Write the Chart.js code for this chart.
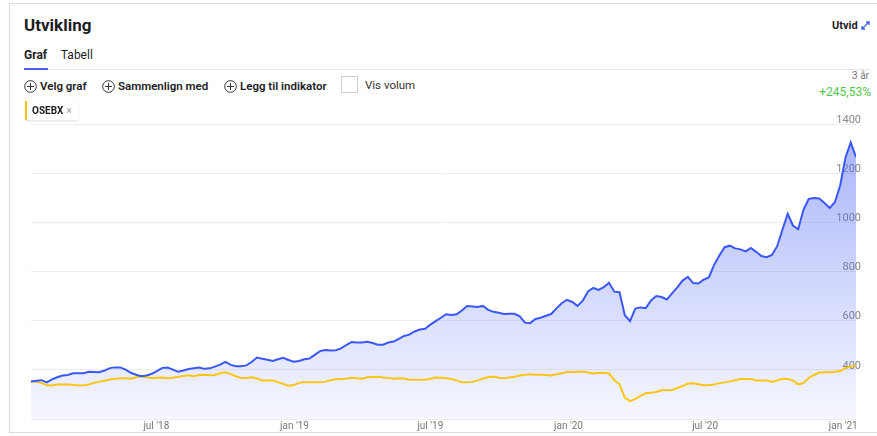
<!DOCTYPE html>
<html>
<head>
<meta charset="utf-8">
<script src="https://cdn.jsdelivr.net/npm/chart.js@4"></script>
<style>
  html, body { margin: 0; padding: 0; background: #fff; }
  body { width: 877px; height: 436px; position: relative; overflow: hidden; font-family: Roboto, "Open Sans", sans-serif; color: #1d1d1f; }
  .card { position: absolute; left: 9px; top: 3px; width: 880px; height: 430px; border: 1px solid #dcdcdc; box-sizing: border-box; }
  .title { position: absolute; left: 24px; top: 15px; font-size: 17px; font-weight: 700; }
  .utvid { position: absolute; left: 832px; top: 19px; font-size: 11px; font-weight: 700; }
  .utvid svg { position: absolute; left: 28px; top: 1px; }
  .tabs { position: absolute; left: 24px; top: 48px; font-size: 12px; }
  .tabs span { margin-right: 11px; }
  .tabs .on { font-weight: 700; }
  .tabline { position: absolute; left: 24px; top: 69px; width: 846px; height: 1px; background: #e8e8e8; }
  .tabsel { position: absolute; left: 24px; top: 68px; width: 24px; height: 2px; background: #4b5ef0; }
  .btn { position: absolute; top: 79px; font-size: 11.5px; font-weight: 600; display: flex; align-items: center; }
  .btn svg { margin-right: 3px; }
  .check { position: absolute; left: 341px; top: 76px; width: 15px; height: 15px; border: 1px solid #cfcfcf; }
  .vis { position: absolute; left: 365px; top: 78px; font-size: 11.5px; color: #333; }
  .chip { position: absolute; left: 25px; top: 101px; height: 19px; padding: 0 6px 0 5px; font-size: 10px; font-weight: 700; line-height: 19px; border-left: 2px solid #f5c518; box-shadow: 0 1px 2px rgba(0,0,0,0.12); background: #fff; }
  .chip .x { color: #999; font-weight: 400; margin-left: 3px; }
  .per { position: absolute; right: 8px; top: 70px; font-size: 10px; color: #777; }
  .pct { position: absolute; right: 6px; top: 85px; font-size: 12px; color: #55c64b; }
  #chart { position: absolute; left: 0; top: 0; }
</style>
</head>
<body>
<div class="card"></div>
<div class="title">Utvikling</div>
<div class="utvid">Utvid
  <svg width="11" height="11" viewBox="0 0 11 11"><path d="M2 9 L9 2 M6 2 H9 V5 M2 6 V9 H5" stroke="#3a66e8" stroke-width="1.3" fill="none"/></svg>
</div>
<div class="tabs"><span class="on">Graf</span> <span>Tabell</span></div>
<div class="tabline"></div>
<div class="tabsel"></div>
<div class="btn" style="left:24px"><svg width="13" height="13" viewBox="0 0 13 13"><circle cx="6.5" cy="6.5" r="5.8" stroke="#333" stroke-width="1" fill="none"/><path d="M6.5 3 V10 M3 6.5 H10" stroke="#333" stroke-width="1"/></svg>Velg graf</div>
<div class="btn" style="left:102px"><svg width="13" height="13" viewBox="0 0 13 13"><circle cx="6.5" cy="6.5" r="5.8" stroke="#333" stroke-width="1" fill="none"/><path d="M6.5 3 V10 M3 6.5 H10" stroke="#333" stroke-width="1"/></svg>Sammenlign med</div>
<div class="btn" style="left:224px"><svg width="13" height="13" viewBox="0 0 13 13"><circle cx="6.5" cy="6.5" r="5.8" stroke="#333" stroke-width="1" fill="none"/><path d="M6.5 3 V10 M3 6.5 H10" stroke="#333" stroke-width="1"/></svg>Legg til indikator</div>
<div class="check"></div>
<div class="vis">Vis volum</div>
<div class="per">3 år</div>
<div class="pct">+245,53%</div>
<canvas id="chart" width="877" height="433"></canvas>
<div class="chip">OSEBX<span class="x">×</span></div>

<script>
// weekly closes, first week 15 jan 2018
const startDate = '2018-01-15';

const stockValues = [
  353, 356, 358, 349, 361, 370, 377, 379, 386, 386, 386, 392, 391, 390, 397, 407, 410, 410, 401, 388,
  380, 374, 377, 384, 396, 408, 409, 401, 392, 397, 403, 406, 409, 404, 406, 413, 421, 432, 420, 415,
  415, 418, 432, 450, 445, 441, 436, 443, 449, 440, 433, 436, 443, 446, 461, 476, 481, 479, 480, 487,
  501, 513, 511, 511, 514, 509, 502, 502, 511, 515, 526, 538, 543, 556, 564, 567, 584, 598, 612, 626,
  623, 626, 641, 660, 658, 656, 660, 644, 636, 632, 627, 628, 628, 618, 592, 590, 607, 612, 620, 627,
  650, 671, 685, 676, 660, 681, 719, 733, 725, 736, 754, 718, 716, 622, 598, 649, 654, 651, 682, 700,
  696, 686, 711, 735, 763, 778, 753, 751, 767, 776, 827, 865, 899, 905, 894, 890, 882, 896, 880, 863,
  858, 867, 903, 970, 1035, 987, 972, 1051, 1095, 1099, 1097, 1079, 1058, 1083, 1151, 1264, 1325, 1265
];

const osebxValues = [
  353, 351, 347, 337, 336, 340, 340, 340, 339, 336, 337, 340, 347, 352, 356, 361, 364, 366, 366, 364,
  370, 374, 370, 367, 368, 369, 366, 368, 372, 375, 378, 374, 379, 380, 378, 379, 386, 390, 383, 374,
  367, 367, 370, 365, 357, 357, 357, 350, 343, 335, 338, 347, 350, 350, 349, 349, 352, 358, 362, 363,
  364, 368, 366, 364, 370, 371, 372, 369, 367, 364, 366, 365, 360, 360, 360, 360, 364, 369, 368, 366,
  363, 357, 349, 349, 351, 357, 364, 370, 373, 368, 366, 369, 372, 377, 380, 382, 380, 380, 379, 377,
  382, 386, 391, 391, 392, 392, 389, 385, 387, 388, 385, 358, 341, 287, 273, 282, 294, 305, 307, 310,
  317, 317, 318, 326, 334, 344, 345, 341, 337, 337, 340, 346, 349, 353, 358, 363, 363, 363, 357, 357,
  357, 351, 357, 364, 363, 357, 341, 346, 367, 379, 389, 390, 390, 392, 395, 408, 413, 417
];

const tickDates = ['2018-07-01', '2019-01-01', '2019-07-01', '2020-01-01', '2020-07-01', '2021-01-01'];
const tickLabels = ["jul '18", "jan '19", "jul '19", "jan '20", "jul '20", "jan '21"];
const yTicks = [200, 400, 600, 800, 1000, 1200, 1400];

const DAY = 86400000;
const t0 = Date.parse(startDate);
const dates = stockValues.map((v, i) => t0 + i * 7 * DAY);

const ctx = document.getElementById('chart');

const areaFill = (context) => {
  const area = context.chart.chartArea;
  if (!area) return 'rgba(70,95,245,0.1)';
  const g = context.chart.ctx.createLinearGradient(0, area.top, 0, area.bottom);
  g.addColorStop(0, 'rgba(70,95,245,0.48)');
  g.addColorStop(1, 'rgba(70,95,245,0.05)');
  return g;
};

new Chart(ctx, {
  type: 'line',
  data: {
    datasets: [
      {
        label: 'Aksje',
        data: stockValues.map((v, i) => ({ x: dates[i], y: v })),
        borderColor: '#3b58f6',
        borderWidth: 2,
        backgroundColor: areaFill,
        fill: 'start',
        pointRadius: 0,
        tension: 0
      },
      {
        label: 'OSEBX',
        data: osebxValues.map((v, i) => ({ x: dates[i], y: v })),
        borderColor: '#fac515',
        borderWidth: 2,
        fill: false,
        pointRadius: 0,
        tension: 0
      }
    ]
  },
  options: {
    responsive: false,
    animation: false,
    layout: { padding: { top: 124, left: 31, right: 11, bottom: 0 } },
    scales: {
      x: {
        type: 'linear',
        min: dates[0],
        max: dates[dates.length - 1],
        grid: { display: false, drawTicks: false },
        border: { display: false },
        afterBuildTicks: (scale) => {
          scale.ticks = tickDates.map(d => ({ value: Date.parse(d) }));
        },
        ticks: {
          autoSkip: false,
          maxRotation: 0,
          padding: 1,
          color: '#777',
          font: { family: 'Roboto', size: 10 },
          callback: (value, index) => tickLabels[index]
        }
      },
      y: {
        position: 'right',
        min: 200,
        max: 1400,
        afterBuildTicks: (scale) => {
          scale.ticks = yTicks.map(v => ({ value: v }));
        },
        grid: { color: '#ededed', drawTicks: false },
        border: { display: false },
        ticks: {
          mirror: true,
          padding: 5,
          labelOffset: -4,
          color: '#888',
          font: { family: 'Roboto', size: 11 },
          callback: (value) => (value === 200 ? '' : value)
        }
      }
    },
    plugins: {
      legend: { display: false },
      tooltip: { enabled: false },
      filler: { drawTime: 'beforeDatasetsDraw' }
    }
  }
});
</script>
</body>
</html>
